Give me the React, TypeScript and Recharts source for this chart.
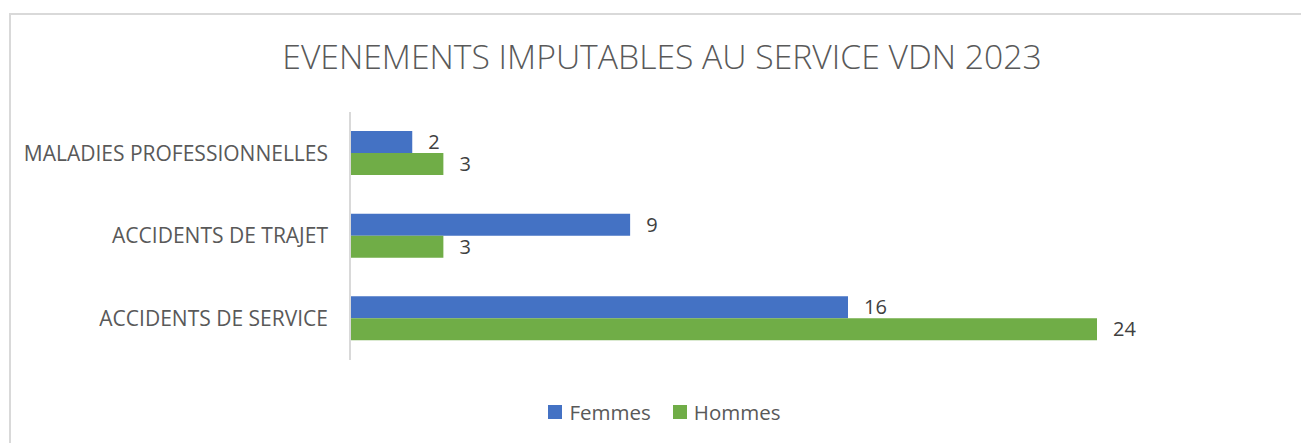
import React from "react";
import { BarChart, Bar, XAxis, YAxis, LabelList, Legend } from "recharts";

const categories = ["MALADIES PROFESSIONNELLES", "ACCIDENTS DE TRAJET", "ACCIDENTS DE SERVICE"];
const femmes = [2, 9, 16];
const hommes = [3, 3, 24];
const seriesNames = ["Femmes", "Hommes"];
const seriesColors = ["#4472C4", "#70AD47"];
const title = "EVENEMENTS IMPUTABLES AU SERVICE VDN 2023";

const data = categories.map((c, i) => ({ name: c, Femmes: femmes[i], Hommes: hommes[i] }));

const FONT = "'Open Sans', 'Noto Sans', sans-serif";

const LegendContent = () => (
  <div style={{ display: "flex", justifyContent: "center", fontFamily: FONT, fontSize: 20.5, lineHeight: "24px", color: "#595959", paddingLeft: 28 }}>
    {seriesNames.map((n, i) => (
      <div key={n} style={{ display: "flex", alignItems: "center", marginRight: i === 0 ? 22 : 0 }}>
        <div style={{ width: 14, height: 14, background: seriesColors[i], marginRight: 7 }} />
        <span>{n}</span>
      </div>
    ))}
  </div>
);

export default function App() {
  return (
    <div style={{ position: "absolute", left: 0, top: 0, width: 1301, height: 443, overflow: "hidden", background: "#fff" }}>
      <div style={{ position: "absolute", left: 9, top: 13, width: 1320, height: 460, border: "2px solid #d9d9d9", boxSizing: "border-box" }} />
      <div style={{ position: "absolute", left: 0, top: 39, width: 1324, textAlign: "center", fontFamily: FONT, fontSize: 33.7, lineHeight: "34px", fontWeight: 300, color: "#595959", whiteSpace: "nowrap" }}>
        {title}
      </div>
      <div style={{ position: "absolute", left: 0, top: 0 }}>
        <BarChart
          width={1301}
          height={443}
          data={data}
          layout="vertical"
          margin={{ top: 112, right: 204, bottom: 59, left: 0 }}
          barGap={0}
          barSize={22}
        >
          <XAxis type="number" domain={[0, 24]} hide />
          <YAxis
            type="category"
            dataKey="name"
            width={350}
            tickLine={false}
            tickSize={0}
            tickMargin={22}
            axisLine={{ stroke: "#d9d9d9", strokeWidth: 2 }}
            tick={{ fill: "#595959", fontSize: 21, fontFamily: FONT }}
          />
          <Legend verticalAlign="bottom" height={24} content={<LegendContent />} wrapperStyle={{ left: 0, width: 1301, top: 400 }} />
          <Bar dataKey="Femmes" fill={seriesColors[0]} isAnimationActive={false}>
            <LabelList dataKey="Femmes" position="right" offset={16} style={{ fill: "#404040", fontSize: 20, fontFamily: FONT }} />
          </Bar>
          <Bar dataKey="Hommes" fill={seriesColors[1]} isAnimationActive={false}>
            <LabelList dataKey="Hommes" position="right" offset={16} style={{ fill: "#404040", fontSize: 20, fontFamily: FONT }} />
          </Bar>
        </BarChart>
      </div>
    </div>
  );
}
